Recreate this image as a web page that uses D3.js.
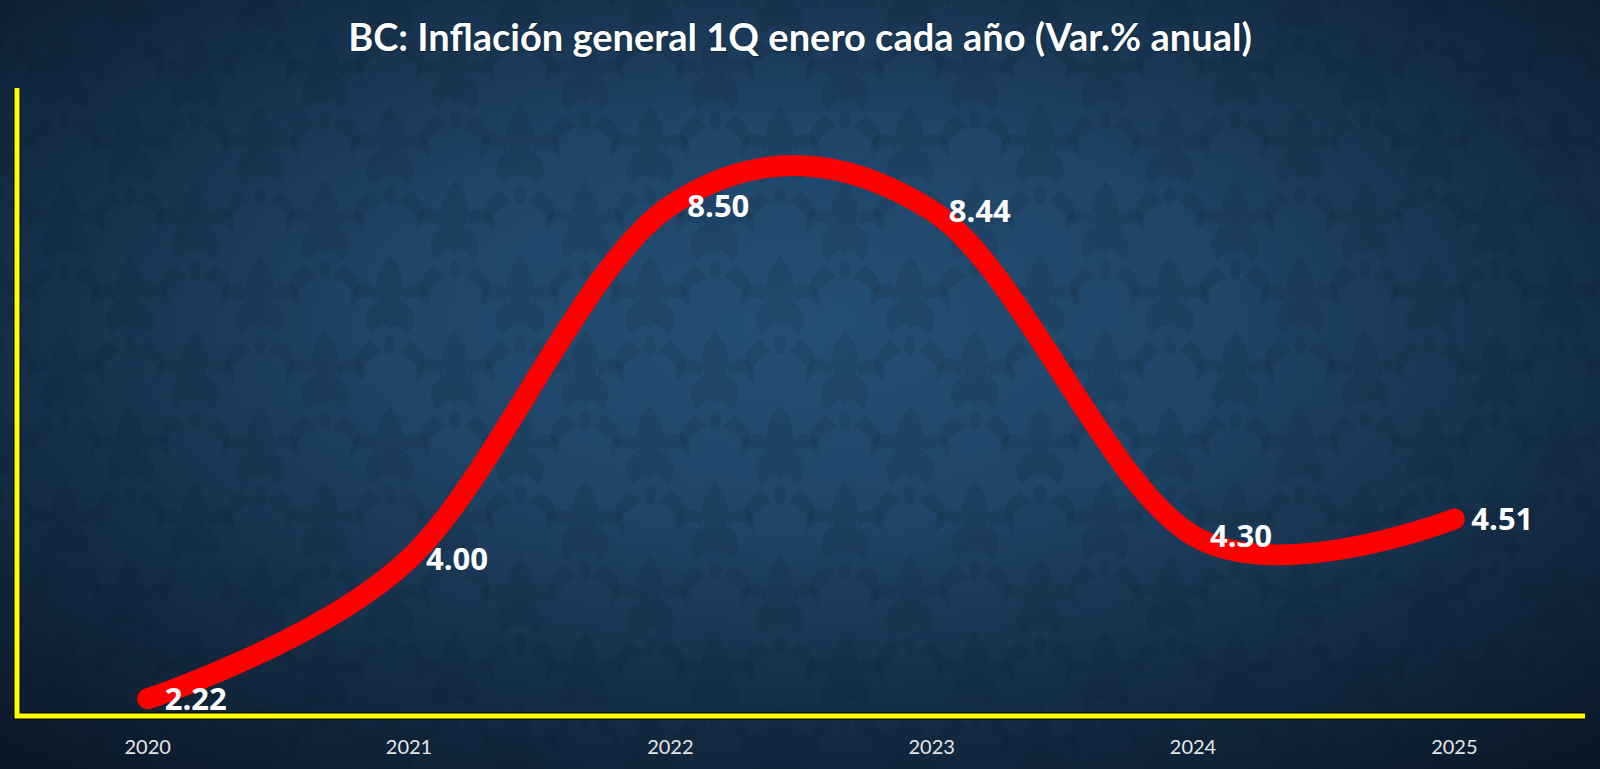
<!DOCTYPE html>
<html>
<head>
<meta charset="utf-8">
<script src="https://cdn.jsdelivr.net/npm/d3@7"></script>
<style>
  html, body { margin: 0; padding: 0; background: #0d1b2a; }
  svg { display: block; }
</style>
</head>
<body>
<svg id="chart" width="1600" height="769"></svg>
<script>
// ---- data ----
const title = "BC: Inflación general 1Q enero cada año (Var.% anual)";
const years = ["2020", "2021", "2022", "2023", "2024", "2025"];
const values = [2.22, 4.00, 8.50, 8.44, 4.30, 4.51];
const valueLabels = ["2.22", "4.00", "8.50", "8.44", "4.30", "4.51"];
const yDomain = [2, 10];

const W = 1600, H = 769;
const margin = { left: 17, right: 15, top: 88, bottom: 53 };
const svg = d3.select("#chart");
const defs = svg.append("defs");

// background gradient
const rg = defs.append("radialGradient").attr("id", "bg")
  .attr("cx", 0.5).attr("cy", 0.42).attr("r", 0.75);
rg.append("stop").attr("offset", "0%").attr("stop-color", "#245077");
rg.append("stop").attr("offset", "35%").attr("stop-color", "#1f4568");
rg.append("stop").attr("offset", "70%").attr("stop-color", "#142c45");
rg.append("stop").attr("offset", "100%").attr("stop-color", "#0b1727");

// damask-like pattern
const pat = defs.append("pattern").attr("id", "damask")
  .attr("patternUnits", "userSpaceOnUse").attr("width", 130).attr("height", 150);
function motif(g, cx, cy) {
  const m = g.append("g").attr("transform", `translate(${cx},${cy})`)
    .attr("fill", "#061322").attr("opacity", 0.13);
  m.append("path").attr("d", "M0,-45 C12,-30 18,-15 10,0 C22,5 30,20 18,35 C10,28 6,20 0,30 C-6,20 -10,28 -18,35 C-30,20 -22,5 -10,0 C-18,-15 -12,-30 0,-45Z");
  m.append("path").attr("d", "M-12,-10 C-30,-25 -45,-10 -38,8 C-32,-4 -22,-6 -14,2Z");
  m.append("path").attr("d", "M12,-10 C30,-25 45,-10 38,8 C32,-4 22,-6 14,2Z");
  m.append("path").attr("d", "M-20,40 C-35,50 -40,65 -30,72 C-25,62 -15,55 -8,52Z");
  m.append("path").attr("d", "M20,40 C35,50 40,65 30,72 C25,62 15,55 8,52Z");
  m.append("ellipse").attr("cx", 0).attr("cy", 45).attr("rx", 6).attr("ry", 10);
}
const pg = pat.append("g");
motif(pg, 65, 75);
motif(pg, 0, 0); motif(pg, 130, 0); motif(pg, 0, 150); motif(pg, 130, 150);

svg.append("rect").attr("width", W).attr("height", H).attr("fill", "url(#bg)");
svg.append("rect").attr("width", W).attr("height", H).attr("fill", "url(#damask)");

// scales
const x = d3.scaleBand().domain(years).range([margin.left, W - margin.right]);
const xc = d => x(d) + x.bandwidth() / 2;
const y = d3.scaleLinear().domain(yDomain).range([H - margin.bottom, margin.top]);
const y0 = y(yDomain[0]);

// title
const t = svg.append("text")
  .attr("x", W / 2).attr("y", 51)
  .attr("text-anchor", "middle")
  .attr("font-family", "Lato, 'Open Sans', sans-serif")
  .attr("font-weight", "bold")
  .attr("font-size", 35)
  .attr("fill", "#ffffff")
  .style("paint-order", "stroke")
  .attr("stroke", "rgba(0,0,0,0.25)").attr("stroke-width", 2)
  .text(title);
const tw = t.node().getComputedTextLength();
t.attr("font-size", 35 * 904 / tw);

// axes (yellow with dark edge)
const axisG = svg.append("g");
const axisPath = `M${margin.left},${margin.top} L${margin.left},${y0} L${W - margin.right},${y0}`;
axisG.append("path").attr("d", axisPath).attr("fill", "none")
  .attr("stroke", "#000").attr("stroke-opacity", 0.6).attr("stroke-width", 8);
axisG.append("path").attr("d", axisPath).attr("fill", "none")
  .attr("stroke", "#ffff00").attr("stroke-width", 5);

// x-axis labels via d3 axis
const xAxis = d3.axisBottom(x).tickSize(0).tickPadding(0);
const xg = svg.append("g").attr("transform", `translate(0,${y0})`).call(xAxis);
xg.select(".domain").remove();
xg.selectAll("text")
  .attr("y", 38).attr("dy", 0)
  .attr("font-family", "Lato, 'Open Sans', sans-serif")
  .attr("font-size", 20)
  .attr("fill", "#e6e6e6");

// line
const pts = years.map((d, i) => [xc(d), y(values[i])]);
const line = d3.line().curve(d3.curveCardinal.tension(0));
svg.append("path").attr("d", line(pts))
  .attr("fill", "none").attr("stroke", "#ff0000")
  .attr("stroke-width", 21).attr("stroke-linecap", "round").attr("stroke-linejoin", "round");

// value labels
svg.append("g").selectAll("text").data(years).join("text")
  .attr("x", d => xc(d) + 17)
  .attr("y", (d, i) => y(values[i]) + 0.357 * 31)
  .attr("font-family", "'Open Sans', sans-serif")
  .attr("font-weight", "bold")
  .attr("font-size", 31)
  .attr("fill", "#ffffff")
  .text((d, i) => valueLabels[i]);
</script>
</body>
</html>
